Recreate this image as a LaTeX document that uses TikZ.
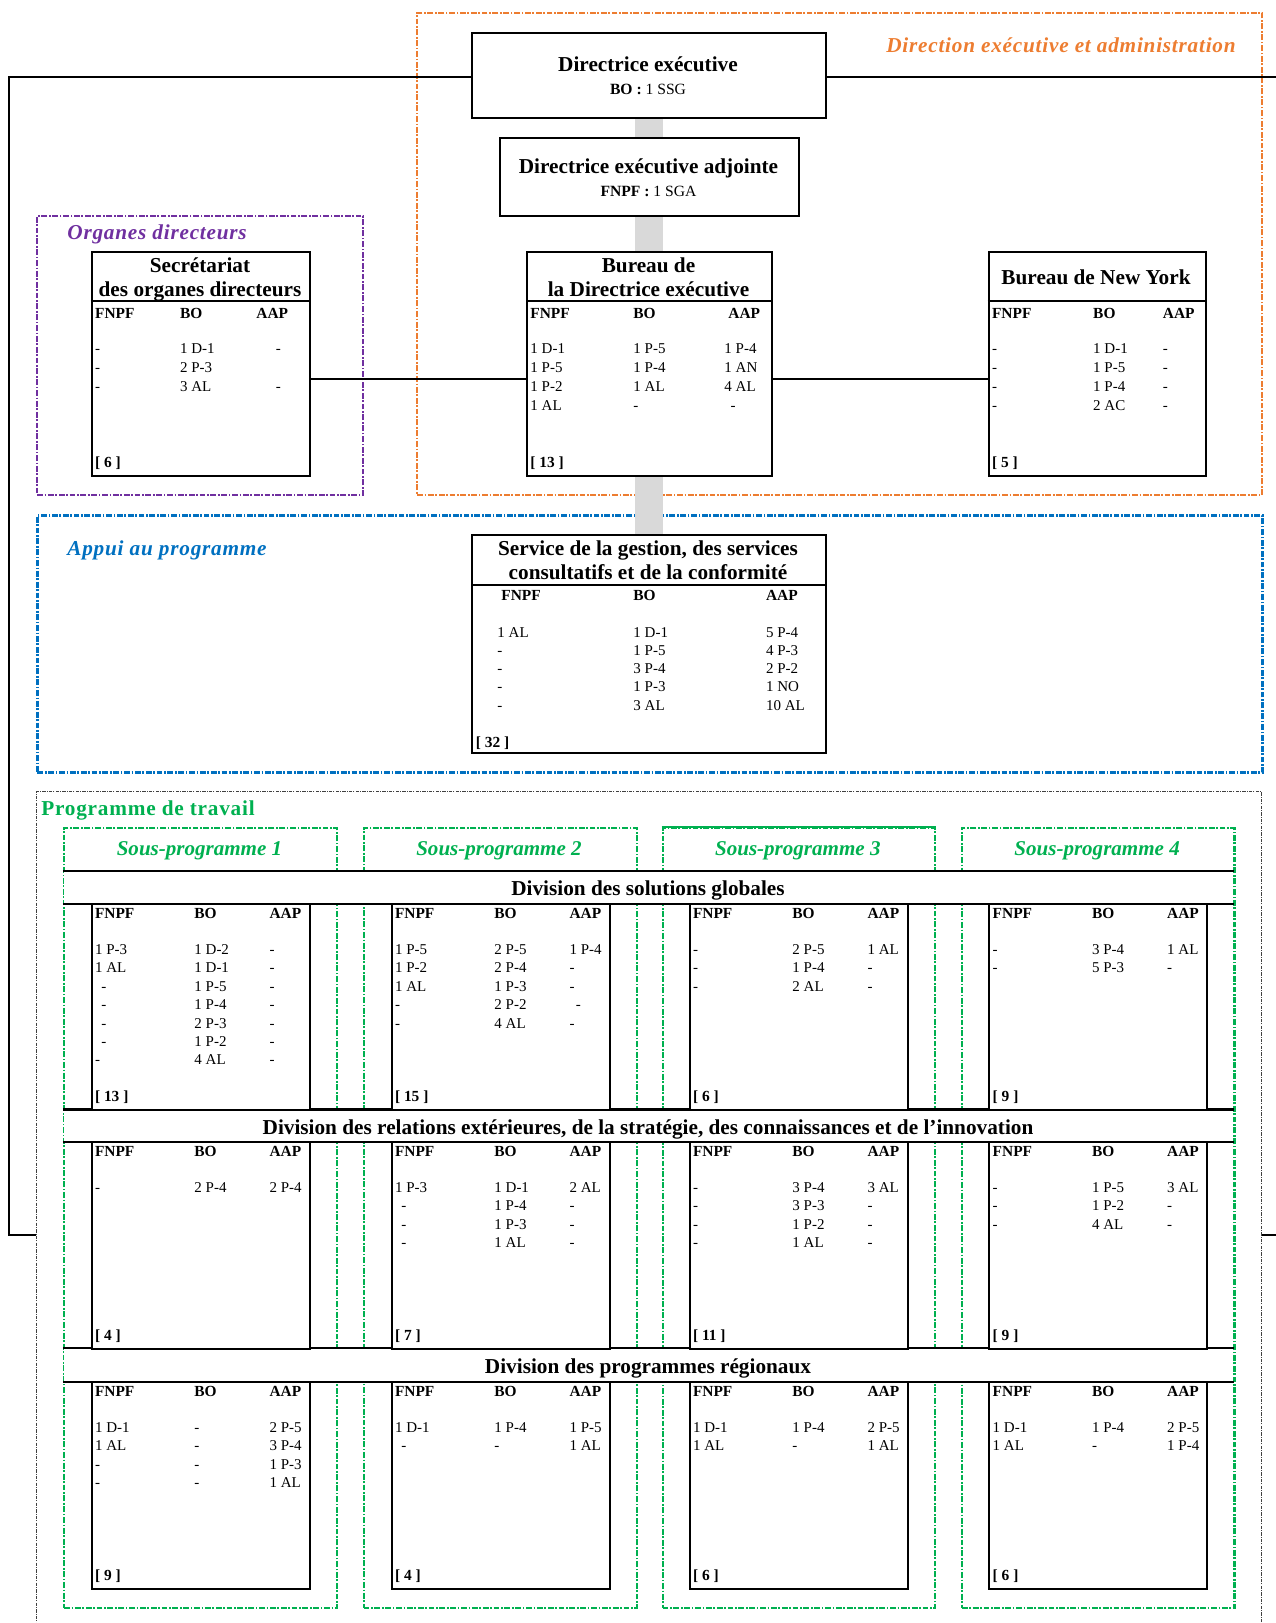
\documentclass[tikz,border=0pt]{standalone}
\usepackage{fontspec}
\setmainfont{Liberation Serif}
\definecolor{orng}{HTML}{ED7D31}
\definecolor{purp}{HTML}{7030A0}
\definecolor{blu}{HTML}{0070C0}
\definecolor{grn}{HTML}{00B050}
\newcommand\PX{0.48pt}
\newcommand\fT{\fontsize{10.2}{12}\selectfont\bfseries}
\newcommand\fS{\fontsize{7.2}{8.6}\selectfont}
\newcommand\fH{\fontsize{7.4}{8.6}\selectfont\bfseries}
\newcommand\fM{\fontsize{7.5}{9}\selectfont}
\newcommand\fL{\fontsize{10.2}{12}\selectfont\bfseries\itshape\addfontfeatures{LetterSpace=3.6}}
\newcommand\fP{\fontsize{10.2}{12}\selectfont\bfseries\addfontfeatures{LetterSpace=3.6}}
\newcommand\fSP{\fontsize{10.1}{12}\selectfont\bfseries\itshape}
\newcommand\ind{\hspace*{3pt}}
\tikzset{
  cell/.style={anchor=west, inner sep=0pt, text height=4.8pt, text depth=0pt, font=\fS},
  hd/.style={cell, font=\fH},
  ttl/.style={inner sep=0pt, text height=6.8pt, text depth=0pt, font=\fT},
  sub/.style={inner sep=0pt, text height=4.9pt, text depth=0pt, font=\fM},
  box/.style={rectangle, draw, line width=0.96pt, fill=white, inner sep=0pt, anchor=north west},
  fdash/.style={dash pattern=on 2.8pt off 0.8pt on 0.8pt off 0.8pt},
  secbase/.style={rectangle, inner sep=0pt, anchor=north west, fdash},
  secO/.style={secbase, draw=orng, line width=1.05pt},
  secP/.style={secbase, draw=purp, line width=1.05pt},
  secB/.style={secbase, draw=blu, line width=1.4pt},
  secG/.style={rectangle, inner sep=0pt, anchor=north west, draw=black!75, line width=0.5pt, dash pattern=on 1.6pt off 0.6pt on 0.4pt off 0.6pt},
  spbox/.style={secbase, draw=grn, line width=1.05pt},
  bandn/.style={rectangle, fill=white, inner sep=0pt, anchor=north west},
  bline/.style={line width=1.1pt},
  sepl/.style={line width=0.96pt},
  conn/.style={line width=0.96pt},
  lblbase/.style={inner sep=0pt, text height=6.8pt, text depth=0pt},
  lblO/.style={lblbase, font=\fL, text=orng},
  lblP/.style={lblbase, font=\fL, text=purp},
  lblB/.style={lblbase, font=\fL, text=blu},
  lblG/.style={lblbase, font=\fP, text=grn},
  splbl/.style={lblbase, font=\fSP, text=grn},
}
\newcommand\bx[6][box]{\node[#1, minimum width={(#5)*\PX}, minimum height={(#6)*\PX}] (#2) at (#3,#4) {};}
\newcommand\colv[5]{\foreach \t [count=\i from 0] in {#5}{\node[cell] (#1\i) at (#2,#3+\i*#4) {\t};}}
\newcommand\spcell[8]{%
  \bx{#1}{#2}{#3}{218}{#4-#3}
  \node[hd] (#1h1) at (#2+4,#3+10.5) {FNPF};
  \node[hd] (#1h2) at (#2+103.4,#3+10.5) {BO};
  \node[hd] (#1h3) at (#2+178.5,#3+10.5) {AAP};
  \colv{#1f}{#2+4}{#3+46.5}{18.4}{#5}
  \colv{#1b}{#2+103.4}{#3+46.5}{18.4}{#6}
  \colv{#1a}{#2+178.5}{#3+46.5}{18.4}{#7}
  \node[hd] (#1t) at (#2+4,#4-13) {[ #8 ]};
}
\begin{document}
\begin{tikzpicture}[x=0.48pt, y=-0.48pt]
\useasboundingbox (0,0) rectangle (1275,1623);
% ---- section frames
\bx[secO]{dirsec}{416}{12}{1261-416}{494-12}
\bx[secP]{orgsec}{36}{215}{362-36}{494-215}
\bx[secB]{appsec}{36}{514}{1261-36}{771-514}
\bx[secG]{pdtsec}{36}{791}{1261-36}{1650-791}
% ---- grey spine
\coordinate (gtop) at (649,117);
\coordinate (gbot) at (649,534);
\draw[line width={28*\PX}, black!15] (gtop) -- (gbot);
% ---- sous-programmes
\bx[spbox]{sp1}{63}{827}{273}{1607-827}
\bx[spbox]{sp2}{362.5}{827}{273}{1607-827}
\bx[spbox]{sp3}{661.5}{827}{272.5}{1607-827}
\bx[spbox]{sp4}{960.8}{827}{272.6}{1607-827}
\draw[grn, line width=1.05pt] (sp3.north west) -- (sp3.north east);
\node[splbl] (sp1l) at (199.5,848) {Sous-programme 1};
\node[splbl] (sp2l) at (499,848) {Sous-programme 2};
\node[splbl] (sp3l) at (797.8,848) {Sous-programme 3};
\node[splbl] (sp4l) at (1097.1,848) {Sous-programme 4};
% ---- division bands
\bx[bandn]{band1}{64}{871}{1168.4}{32}
\bx[bandn]{band2}{64}{1109.5}{1168.4}{31.5}
\bx[bandn]{band3}{64}{1348}{1168.4}{33}
\foreach \b in {band1,band2,band3}{
  \draw[bline] ([xshift=-0.5pt]\b.north west) -- ([xshift=0.5pt]\b.north east);
  \draw[bline] ([xshift=-0.5pt]\b.south west) -- ([xshift=0.5pt]\b.south east);
}
\node[ttl] (band1t) at (648,888) {Division des solutions globales};
\node[ttl] (band2t) at (648,1127) {Division des relations extérieures, de la stratégie, des connaissances et de l’innovation};
\node[ttl] (band3t) at (648,1366) {Division des programmes régionaux};
% ---- row 1
\spcell{r1a}{90.6}{903}{1109}{1 P-3,1 AL,\ind-,\ind-,\ind-,\ind-,-}{1 D-2,1 D-1,1 P-5,1 P-4,2 P-3,1 P-2,4 AL}{-,-,-,-,-,-,-}{13}
\spcell{r1b}{390.6}{903}{1109}{1 P-5,1 P-2,1 AL,-,-}{2 P-5,2 P-4,1 P-3,2 P-2,4 AL}{1 P-4,-,-,\ind-,-}{15}
\spcell{r1c}{688.6}{903}{1109}{-,-,-}{2 P-5,1 P-4,2 AL}{1 AL,-,-}{6}
\spcell{r1d}{988.3}{903}{1109}{-,-}{3 P-4,5 P-3}{1 AL,-}{9}
% ---- row 2
\spcell{r2a}{90.6}{1141}{1348}{-}{2 P-4}{2 P-4}{4}
\spcell{r2b}{390.6}{1141}{1348}{1 P-3,\ind-,\ind-,\ind-}{1 D-1,1 P-4,1 P-3,1 AL}{2 AL,-,-,-}{7}
\spcell{r2c}{688.6}{1141}{1348}{-,-,-,-}{3 P-4,3 P-3,1 P-2,1 AL}{3 AL,-,-,-}{11}
\spcell{r2d}{988.3}{1141}{1348}{-,-,-}{1 P-5,1 P-2,4 AL}{3 AL,-,-}{9}
% ---- row 3
\spcell{r3a}{90.6}{1381}{1588}{1 D-1,1 AL,-,-}{-,-,-,-}{2 P-5,3 P-4,1 P-3,1 AL}{9}
\spcell{r3b}{390.6}{1381}{1588}{1 D-1,\ind-}{1 P-4,-}{1 P-5,1 AL}{4}
\spcell{r3c}{688.6}{1381}{1588}{1 D-1,1 AL}{1 P-4,-}{2 P-5,1 AL}{6}
\spcell{r3d}{988.3}{1381}{1588}{1 D-1,1 AL}{1 P-4,-}{2 P-5,1 P-4}{6}
% ---- top boxes
\bx{de}{471}{32}{354}{85}
\node[ttl] (deT) at (648,64) {Directrice exécutive};
\node[sub] (deS) at (648,89) {\textbf{BO :} 1 SSG};
\bx{dea}{499}{137}{299}{78}
\node[ttl] (deaT) at (648.5,166) {Directrice exécutive adjointe};
\node[sub] (deaS) at (648.5,191) {\textbf{FNPF :} 1 SGA};
\coordinate (ySep) at (0,301);
% Secretariat
\bx{sec}{90.6}{251}{218.4}{224}
\node[ttl] (secT1) at (200,265) {Secrétariat};
\node[ttl] (secT2) at (200,289) {des organes directeurs};
\draw[sepl] (sec.west |- ySep) -- (sec.east |- ySep);
\node[hd] (secH1) at (94.7,314) {FNPF};
\node[hd] (secH2) at (179.6,314) {BO};
\node[hd] (secH3) at (256,314) {AAP};
\colv{secF}{94.7}{349}{18.9}{-,-,-}
\colv{secB}{179.6}{349}{18.9}{1 D-1,2 P-3,3 AL}
\colv{secA}{275.5}{349}{18.9}{-,{},-}
\node[hd] (secTot) at (94.7,462) {[ 6 ]};
% Bureau DE
\bx{bur}{526}{251}{245}{224}
\node[ttl] (burT1) at (648.5,265) {Bureau de};
\node[ttl] (burT2) at (648.5,289) {la Directrice exécutive};
\draw[sepl] (bur.west |- ySep) -- (bur.east |- ySep);
\node[hd] (burH1) at (530,314) {FNPF};
\node[hd] (burH2) at (633,314) {BO};
\node[hd] (burH3) at (728,314) {AAP};
\colv{burF}{530}{349}{18.9}{1 D-1,1 P-5,1 P-2,1 AL}
\colv{burB}{633}{349}{18.9}{1 P-5,1 P-4,1 AL,-}
\colv{burA}{724}{349}{18.9}{1 P-4,1 AN,4 AL,\ind-}
\node[hd] (burTot) at (530,462) {[ 13 ]};
% New York
\bx{ny}{987.5}{251}{217.5}{224}
\node[ttl] (nyT) at (1096,277) {Bureau de New York};
\draw[sepl] (ny.west |- ySep) -- (ny.east |- ySep);
\node[hd] (nyH1) at (991.6,314) {FNPF};
\node[hd] (nyH2) at (1092.8,314) {BO};
\node[hd] (nyH3) at (1162.5,314) {AAP};
\colv{nyF}{991.6}{349}{18.9}{-,-,-,-}
\colv{nyB}{1092.8}{349}{18.9}{1 D-1,1 P-5,1 P-4,2 AC}
\colv{nyA}{1162.5}{349}{18.9}{-,-,-,-}
\node[hd] (nyTot) at (991.6,462) {[ 5 ]};
% Service
\bx{svc}{471}{534}{354}{218}
\node[ttl] (svcT1) at (648,548) {Service de la gestion, des services};
\node[ttl] (svcT2) at (648,572) {consultatifs et de la conformité};
\coordinate (ySep2) at (0,585);
\draw[sepl] (svc.west |- ySep2) -- (svc.east |- ySep2);
\node[hd] (svcH1) at (501,595) {FNPF};
\node[hd] (svcH2) at (633,595) {BO};
\node[hd] (svcH3) at (765.6,595) {AAP};
\colv{svcF}{497}{632}{18.3}{1 AL,-,-,-,-}
\colv{svcB}{633}{632}{18.3}{1 D-1,1 P-5,3 P-4,1 P-3,3 AL}
\colv{svcA}{765.6}{632}{18.3}{5 P-4,4 P-3,2 P-2,1 NO,10 AL}
\node[hd] (svcTot) at (475.5,742) {[ 32 ]};
% ---- connectors
\coordinate (lvl) at (0,379);
\draw[conn] (sec.east |- lvl) -- (bur.west |- lvl);
\draw[conn] (bur.east |- lvl) -- (ny.west |- lvl);
\coordinate (fL1) at (9,77);
\coordinate (fL2) at (9,1235);
\coordinate (fR1) at (1295,77);
\coordinate (fR2) at (1295,1235);
\draw[conn] (de.west |- fL1) -- (fL1) -- (fL2) -- (pdtsec.west |- fL2);
\draw[conn] (de.east |- fR1) -- (fR1) -- (fR2) -- (pdtsec.east |- fR2);
% ---- section labels
\node[lblO, anchor=east] (lDir) at (1236,45) {Direction exécutive et administration};
\node[lblP, anchor=west] (lOrg) at (67,232) {Organes directeurs};
\node[lblB, anchor=west] (lApp) at (67,548) {Appui au programme};
\node[lblG, anchor=west] (lPdt) at (41,808) {Programme de travail};
\end{tikzpicture}
\end{document}
